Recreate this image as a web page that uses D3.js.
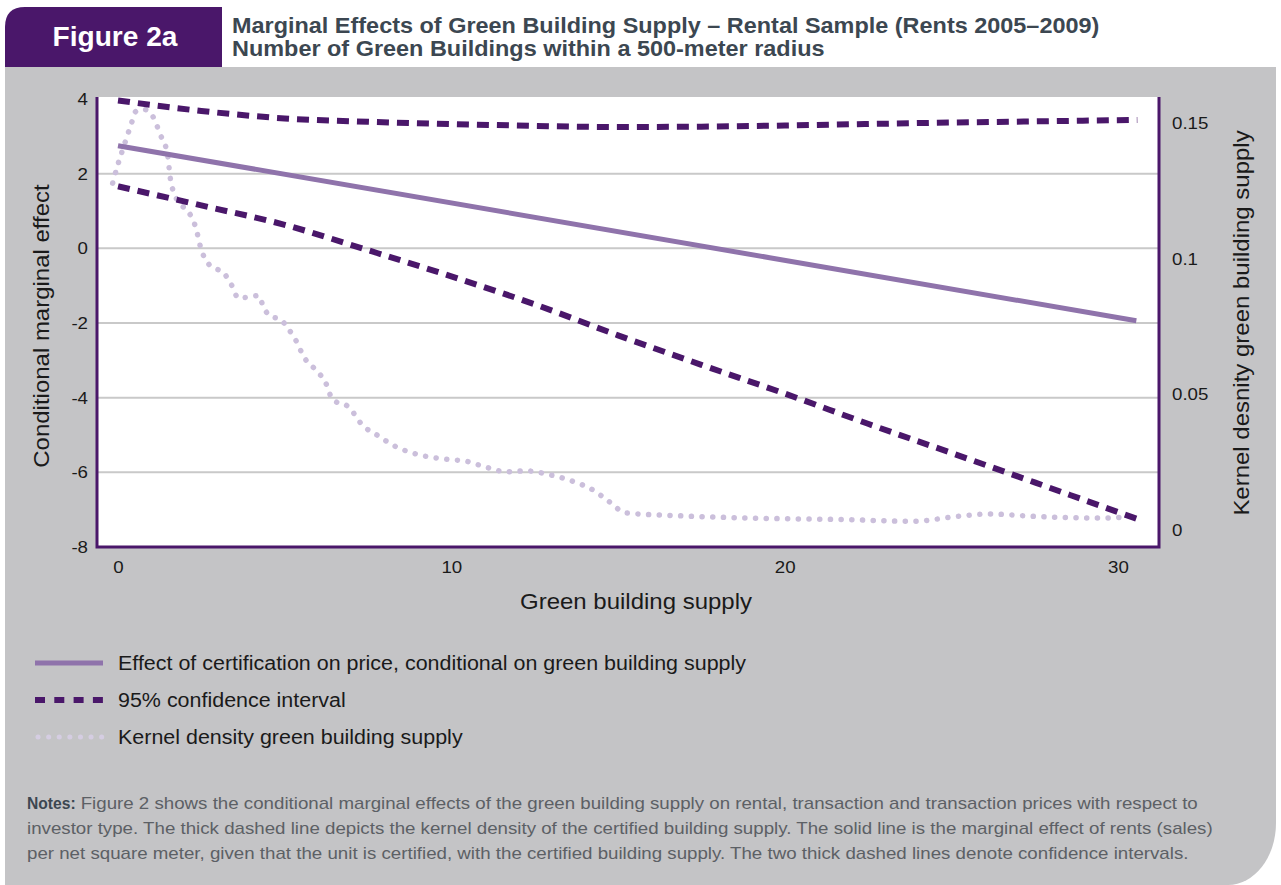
<!DOCTYPE html>
<html>
<head>
<meta charset="utf-8">
<script src="https://cdn.jsdelivr.net/npm/d3@7"></script>
<style>
  body { margin: 0; background: #fff; }
  svg { display: block; font-family: "Liberation Sans", Arial, Helvetica, sans-serif; }
</style>
</head>
<body>
<svg id="chart"></svg>
<script>
// Data
const effectX = [0, 30.55];
const effectY = [2.75, -1.94];

const ciX = [0, 2.5, 5, 7.5, 10, 12.5, 15, 17.5, 20, 22.5, 25, 27.5, 30.58];
const ciUpper = [3.96, 3.68, 3.48, 3.39, 3.33, 3.28, 3.25, 3.26, 3.29, 3.33, 3.37, 3.40, 3.44];
const ciLower = [1.66, 1.15, 0.63, -0.05, -0.75, -1.5, -2.33, -3.12, -3.89, -4.7, -5.48, -6.27, -7.25];

const kdX = [-0.16, 0.01, 0.21, 0.42, 0.53, 0.78, 1.03, 1.27, 1.49, 1.56, 1.72, 1.86, 2.09, 2.34, 2.48,
  2.75, 3.18, 3.47, 3.59, 3.95, 4.22, 4.35, 4.53, 4.89, 5.13, 5.33, 5.58, 6.02, 6.22, 6.44, 6.92,
  7.34, 7.79, 8.28, 8.98, 9.86, 10.43, 11.04, 11.64, 12.26, 12.94, 13.59, 14.27, 14.72, 15.23,
  16.55, 18.96, 21.96, 23.87, 25.17, 26.14, 27.53, 29.46, 30.26];
const kdY = [0.128, 0.1354, 0.1429, 0.1507, 0.1544, 0.1552, 0.1529, 0.1459, 0.1383, 0.1306, 0.1232,
  0.1203, 0.1178, 0.1113, 0.1042, 0.0977, 0.0947, 0.0889, 0.0857, 0.0860, 0.0865, 0.0828, 0.0792,
  0.0775, 0.0739, 0.0701, 0.0638, 0.0580, 0.0546, 0.0481, 0.0454, 0.0386, 0.0349, 0.0311, 0.0279,
  0.0261, 0.0254, 0.0232, 0.0215, 0.0218, 0.0204, 0.0182, 0.0146, 0.0106, 0.0063, 0.0054, 0.0044,
  0.0038, 0.0032, 0.0050, 0.0059, 0.0050, 0.0044, 0.0048];

const xTicks = [0, 10, 20, 30];
const yLeftTicks = [-8, -6, -4, -2, 0, 2, 4];
const yRightTicks = [0, 0.05, 0.1, 0.15];
const yRightLabels = ['0', '0.05', '0.1', '0.15'];

const legendItems = [
  'Effect of certification on price, conditional on green building supply',
  '95% confidence interval',
  'Kernel density green building supply'
];
const noteLines = [
  'Figure 2 shows the conditional marginal effects of the green building supply on rental, transaction and transaction prices with respect to',
  'investor type. The thick dashed line depicts the kernel density of the certified building supply. The solid line is the marginal effect of rents (sales)',
  'per net square meter, given that the unit is certified, with the certified building supply. The two thick dashed lines denote confidence intervals.'
];

// Colours
const purple = '#4a176a';
const lilac = '#8f73ab';
const dots = '#cbbfdb';

const W = 1281, H = 885;
const svg = d3.select('#chart').attr('width', W).attr('height', H);

// The original face is wider than Arial: stretch text a little
const widen = (sel, k) => sel.each(function () {
  const len = this.getComputedTextLength();
  d3.select(this).attr('textLength', len * k).attr('lengthAdjust', 'spacingAndGlyphs');
});

// Header
svg.append('path')
  .attr('d', 'M5,67 V27 Q5,7 25,7 H222 V67 Z')
  .attr('fill', purple);
svg.append('text')
  .attr('x', 115).attr('y', 46)
  .attr('text-anchor', 'middle')
  .attr('fill', '#fff')
  .attr('font-size', 27).attr('font-weight', 'bold')
  .text('Figure 2a')
  .call(widen, 1.04);
const titles = ['Marginal Effects of Green Building Supply \u2013 Rental Sample (Rents 2005\u20132009)',
  'Number of Green Buildings within a 500-meter radius'];
svg.selectAll('.title').data(titles).enter().append('text')
  .attr('class', 'title')
  .attr('x', 232).attr('y', (d, i) => 33 + i * 23)
  .attr('fill', '#3c4751')
  .attr('font-size', 21.5).attr('font-weight', 'bold')
  .text(d => d)
  .call(widen, 1.09);

// Grey panel with rounded bottom-right corner
svg.append('path')
  .attr('d', 'M5,67 H1276 V823 A48,62 0 0 1 1228,885 H5 Z')
  .attr('fill', '#c4c4c6');

// Plot area
const plotL = 97, plotR = 1159, plotT = 97, plotB = 547;
svg.append('rect')
  .attr('x', plotL).attr('y', plotT)
  .attr('width', plotR - plotL).attr('height', plotB - plotT)
  .attr('fill', '#fff');

const x = d3.scaleLinear().domain([0, 30]).range([118, 1118]);
const yL = d3.scaleLinear().domain([-8, 4]).range([547, 99]);
const yR = d3.scaleLinear().domain([0, 0.15]).range([530, 123.5]);

// Gridlines
svg.append('g')
  .selectAll('line')
  .data(yLeftTicks.filter(d => d > -8 && d < 4))
  .enter().append('line')
  .attr('x1', plotL).attr('x2', plotR)
  .attr('y1', d => yL(d)).attr('y2', d => yL(d))
  .attr('stroke', '#c9c9c9').attr('stroke-width', 2);

// Axes (labels only, purple lines drawn separately)
const axisStyle = g => {
  g.select('.domain').remove();
  g.selectAll('.tick line').remove();
  g.selectAll('text').attr('fill', '#1a1a1a').attr('font-size', 17)
    .attr('font-family', '"Liberation Sans", Arial, sans-serif')
    .call(widen, 1.1);
};

svg.append('g')
  .attr('transform', `translate(${plotL},0)`)
  .call(d3.axisLeft(yL).tickValues(yLeftTicks).tickSize(0).tickPadding(9).tickFormat(d => String(d)))
  .call(axisStyle);

svg.append('g')
  .attr('transform', `translate(${plotR},0)`)
  .call(d3.axisRight(yR).tickValues(yRightTicks).tickSize(0).tickPadding(13)
    .tickFormat((d, i) => yRightLabels[i]))
  .call(axisStyle);

svg.append('g')
  .attr('transform', `translate(0,${plotB})`)
  .call(d3.axisBottom(x).tickValues(xTicks).tickSize(0).tickPadding(14).tickFormat(d => String(d)))
  .call(axisStyle);

// Series
const lineL = d3.line().x(d => x(d[0])).y(d => yL(d[1])).curve(d3.curveMonotoneX);
const lineR = d3.line().x(d => x(d[0])).y(d => yR(d[1])).curve(d3.curveMonotoneX);

svg.append('path')
  .datum(kdX.map((v, i) => [v, kdY[i]]))
  .attr('d', lineR)
  .attr('fill', 'none').attr('stroke', dots)
  .attr('stroke-width', 5.5).attr('stroke-linecap', 'round')
  .attr('stroke-dasharray', '0.1 10.6');

svg.append('path')
  .datum(effectX.map((v, i) => [v, effectY[i]]))
  .attr('d', lineL)
  .attr('fill', 'none').attr('stroke', lilac).attr('stroke-width', 5);

[ciUpper, ciLower].forEach(s => {
  svg.append('path')
    .datum(ciX.map((v, i) => [v, s[i]]))
    .attr('d', lineL)
    .attr('fill', 'none').attr('stroke', purple)
    .attr('stroke-width', 6).attr('stroke-dasharray', '12 8');
});

// Purple frame lines
svg.append('path')
  .attr('d', `M${plotL},${plotT} V${plotB} H${plotR} V${plotT}`)
  .attr('fill', 'none').attr('stroke', purple).attr('stroke-width', 3);

// Axis titles
const axisTitle = (tr, t) => svg.append('text')
  .attr('transform', tr)
  .attr('text-anchor', 'middle').attr('font-size', 22).attr('fill', '#1a1a1a')
  .text(t)
  .call(widen, 1.09);
axisTitle('translate(49,326) rotate(-90)', 'Conditional marginal effect');
axisTitle('translate(1249,323) rotate(-90)', 'Kernel desnity green building supply');
axisTitle('translate(636,609)', 'Green building supply');

// Legend
const legend = svg.append('g').attr('transform', 'translate(35,663)');
const legendRow = 37;
legend.append('line').attr('x1', 0).attr('x2', 68).attr('y1', 0).attr('y2', 0)
  .attr('stroke', lilac).attr('stroke-width', 5);
legend.append('line').attr('x1', 0).attr('x2', 68).attr('y1', legendRow).attr('y2', legendRow)
  .attr('stroke', purple).attr('stroke-width', 6).attr('stroke-dasharray', '10 9.3');
legend.append('line').attr('x1', 3).attr('x2', 68).attr('y1', legendRow * 2).attr('y2', legendRow * 2)
  .attr('stroke', '#d5cde2').attr('stroke-width', 5).attr('stroke-linecap', 'round')
  .attr('stroke-dasharray', '0.1 10.5');
legend.selectAll('text').data(legendItems).enter().append('text')
  .attr('x', 83).attr('y', (d, i) => i * legendRow + 7)
  .attr('font-size', 19.5).attr('fill', '#1a1a1a')
  .text(d => d)
  .call(widen, 1.1);

// Notes
const notes = svg.append('g').attr('font-size', 17).attr('fill', '#5c6065');
const noteLabel = notes.append('text')
  .attr('x', 27).attr('y', 809)
  .attr('font-weight', 'bold').attr('fill', '#3c4751')
  .text('Notes:');
const labelW = noteLabel.node().getComputedTextLength();
noteLabel.attr('textLength', labelW * 0.92).attr('lengthAdjust', 'spacingAndGlyphs');
notes.selectAll('.note').data(noteLines).enter().append('text')
  .attr('class', 'note')
  .attr('x', (d, i) => i === 0 ? 27 + labelW * 0.92 + 5 : 27)
  .attr('y', (d, i) => 809 + i * 25)
  .text(d => d)
  .call(widen, 1.1);
</script>
</body>
</html>
